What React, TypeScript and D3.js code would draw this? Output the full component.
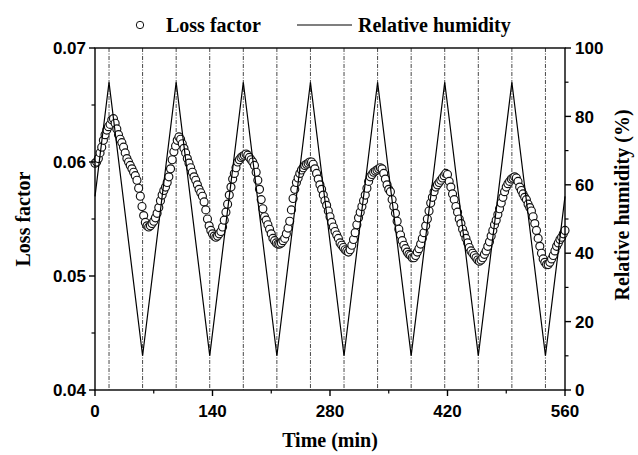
import React from "react";
import * as d3 from "d3";

// ---- Data ----
// Loss factor sampled every 2 min from 0 to 560 min
const lossStartMin = 0;
const lossStepMin = 2;
const lossFactor = [
  0.0599, 0.0600, 0.0603, 0.0608, 0.0613, 0.0619, 0.0624, 0.0628, 0.0631, 0.0633,
  0.0637, 0.0638, 0.0634, 0.0629, 0.0624, 0.0620, 0.0617, 0.0613, 0.0608, 0.0603,
  0.0600, 0.0597, 0.0594, 0.0591, 0.0588, 0.0584, 0.0577, 0.0570, 0.0561, 0.0553,
  0.0547, 0.0544, 0.0543, 0.0544, 0.0546, 0.0548, 0.0551, 0.0555, 0.0560, 0.0566,
  0.0571, 0.0575, 0.0578, 0.0582, 0.0587, 0.0594, 0.0602, 0.0609, 0.0614, 0.0619,
  0.0622, 0.0620, 0.0616, 0.0612, 0.0608, 0.0603, 0.0599, 0.0595, 0.0591, 0.0587,
  0.0584, 0.0580, 0.0576, 0.0573, 0.0570, 0.0565, 0.0558, 0.0550, 0.0544, 0.0540,
  0.0537, 0.0535, 0.0534, 0.0535, 0.0537, 0.0539, 0.0543, 0.0549, 0.0556, 0.0563,
  0.0571, 0.0578, 0.0585, 0.0590, 0.0595, 0.0600, 0.0602, 0.0604, 0.0605, 0.0606,
  0.0607, 0.0606, 0.0604, 0.0602, 0.0600, 0.0597, 0.0591, 0.0584, 0.0576, 0.0567,
  0.0559, 0.0552, 0.0549, 0.0545, 0.0541, 0.0537, 0.0533, 0.0531, 0.0529, 0.0528,
  0.0528, 0.0529, 0.0531, 0.0533, 0.0537, 0.0542, 0.0548, 0.0558, 0.0568, 0.0576,
  0.0582, 0.0586, 0.0590, 0.0593, 0.0595, 0.0597, 0.0598, 0.0599, 0.0600, 0.0600,
  0.0598, 0.0594, 0.0590, 0.0585, 0.0580, 0.0576, 0.0571, 0.0566, 0.0562, 0.0557,
  0.0552, 0.0547, 0.0543, 0.0539, 0.0536, 0.0533, 0.0529, 0.0527, 0.0525, 0.0523,
  0.0522, 0.0521, 0.0523, 0.0527, 0.0532, 0.0538, 0.0545, 0.0551, 0.0556, 0.0561,
  0.0566, 0.0571, 0.0577, 0.0583, 0.0587, 0.0589, 0.0591, 0.0592, 0.0593, 0.0594,
  0.0595, 0.0594, 0.0590, 0.0585, 0.0580, 0.0576, 0.0574, 0.0567, 0.0561, 0.0555,
  0.0548, 0.0541, 0.0536, 0.0531, 0.0527, 0.0524, 0.0521, 0.0519, 0.0518, 0.0516,
  0.0516, 0.0518, 0.0521, 0.0524, 0.0528, 0.0533, 0.0538, 0.0544, 0.0550, 0.0557,
  0.0564, 0.0569, 0.0574, 0.0578, 0.0580, 0.0582, 0.0584, 0.0586, 0.0588, 0.0590,
  0.0589, 0.0583, 0.0578, 0.0572, 0.0567, 0.0561, 0.0556, 0.0550, 0.0546, 0.0541,
  0.0537, 0.0533, 0.0529, 0.0525, 0.0522, 0.0520, 0.0518, 0.0516, 0.0514, 0.0513,
  0.0514, 0.0516, 0.0519, 0.0522, 0.0526, 0.0530, 0.0535, 0.0540, 0.0545, 0.0549,
  0.0554, 0.0559, 0.0564, 0.0569, 0.0574, 0.0578, 0.0581, 0.0583, 0.0585, 0.0586,
  0.0587, 0.0586, 0.0583, 0.0578, 0.0575, 0.0572, 0.0569, 0.0567, 0.0563, 0.0560,
  0.0557, 0.0552, 0.0546, 0.0540, 0.0533, 0.0526, 0.0520, 0.0515, 0.0512, 0.0510,
  0.0510, 0.0512, 0.0515, 0.0518, 0.0522, 0.0526, 0.0529, 0.0532, 0.0534, 0.0537,
  0.0540,
];

// Relative humidity: triangle profile vertices (time in min, RH in %)
const rhTimes = [0, 16.7, 56.7, 96.7, 136.7, 176.7, 216.7, 256.7, 296.7, 336.7, 376.7, 416.7, 456.7, 496.7, 536.7, 560];
const rhValues = [56.6, 90, 10, 90, 10, 90, 10, 90, 10, 90, 10, 90, 10, 90, 10, 56.6];
// Switching instants (vertical dash-dot lines)
const switchTimes = [16.7, 56.7, 96.7, 136.7, 176.7, 216.7, 256.7, 296.7, 336.7, 376.7, 416.7, 456.7, 496.7, 536.7];

const xTicks = [0, 140, 280, 420, 560];
const xTickLabels = ["0", "140", "280", "420", "560"];
const xMinorTicks = [70, 210, 350, 490];
const leftTicks = [0.04, 0.05, 0.06, 0.07];
const leftTickLabels = ["0.04", "0.05", "0.06", "0.07"];
const leftMinorTicks = [0.045, 0.055, 0.065];
const rightTicks = [0, 20, 40, 60, 80, 100];
const rightTickLabels = ["0", "20", "40", "60", "80", "100"];
const rightMinorTicks = [10, 30, 50, 70, 90];

const seriesNames = ["Loss factor", "Relative humidity"];
const xTitle = "Time (min)";
const yLeftTitle = "Loss factor";
const yRightTitle = "Relative humidity (%)";

export default function App() {
  const W = 638, H = 455;
  const left = 95, right = 565, top = 48, bottom = 390;
  const x = d3.scaleLinear().domain([0, 560]).range([left, right]);
  const yL = d3.scaleLinear().domain([0.04, 0.07]).range([bottom, top]);
  const yR = d3.scaleLinear().domain([0, 100]).range([bottom, top]);

  const lossPts = lossFactor.map((v, i) => ({ t: lossStartMin + i * lossStepMin, v }));
  const rhPts = rhTimes.map((t, i) => ({ t, v: rhValues[i] }));
  const rhLine = d3.line<{ t: number; v: number }>().x(d => x(d.t)).y(d => yR(d.v))(rhPts) || "";

  const serif = "'Liberation Serif', 'Times New Roman', serif";
  const sans = "'Liberation Sans', Arial, sans-serif";
  const tickFs = 17;
  const titleFs = 20;

  return (
    <div style={{ position: "fixed", left: 0, top: 0 }}>
      <svg width={W} height={H} style={{ display: "block", background: "#fff" }}>
        {/* vertical dash-dot lines */}
        {switchTimes.map((t, i) => (
          <line key={"sw" + i} x1={x(t)} x2={x(t)} y1={top} y2={bottom}
            stroke="#333" strokeWidth={0.9} strokeDasharray="4,1.5,1,1.5" />
        ))}
        {/* loss factor circles */}
        {lossPts.map((d, i) => (
          <circle key={"c" + i} cx={x(d.t)} cy={yL(d.v)} r={4} fill="#fff" stroke="#111" strokeWidth={1.15} />
        ))}
        {/* RH line */}
        <path d={rhLine} fill="none" stroke="#000" strokeWidth={1.2} />

        {/* frame */}
        <rect x={left} y={top} width={right - left} height={bottom - top} fill="none" stroke="#000" strokeWidth={1.4} />

        {/* bottom axis */}
        {xTicks.map((t, i) => (
          <g key={"xt" + i}>
            <line x1={x(t)} x2={x(t)} y1={bottom} y2={bottom + 6} stroke="#000" strokeWidth={1.4} />
            <text x={x(t)} y={417} textAnchor="middle" fontFamily={sans} fontWeight="bold" fontSize={tickFs}>{xTickLabels[i]}</text>
          </g>
        ))}
        {xMinorTicks.map((t, i) => (
          <line key={"xm" + i} x1={x(t)} x2={x(t)} y1={bottom} y2={bottom + 3.5} stroke="#000" strokeWidth={1.2} />
        ))}

        {/* left axis */}
        {leftTicks.map((v, i) => (
          <g key={"lt" + i}>
            <line x1={left - 6} x2={left} y1={yL(v)} y2={yL(v)} stroke="#000" strokeWidth={1.4} />
            <text x={left - 9} y={yL(v)} dy="0.36em" textAnchor="end" fontFamily={sans} fontWeight="bold" fontSize={tickFs}>{leftTickLabels[i]}</text>
          </g>
        ))}
        {leftMinorTicks.map((v, i) => (
          <line key={"lm" + i} x1={left - 3.5} x2={left} y1={yL(v)} y2={yL(v)} stroke="#000" strokeWidth={1.2} />
        ))}

        {/* right axis */}
        {rightTicks.map((v, i) => (
          <g key={"rt" + i}>
            <line x1={right} x2={right + 6} y1={yR(v)} y2={yR(v)} stroke="#000" strokeWidth={1.4} />
            <text x={right + 10} y={yR(v)} dy="0.36em" textAnchor="start" fontFamily={sans} fontWeight="bold" fontSize={tickFs}>{rightTickLabels[i]}</text>
          </g>
        ))}
        {rightMinorTicks.map((v, i) => (
          <line key={"rm" + i} x1={right} x2={right + 3.5} y1={yR(v)} y2={yR(v)} stroke="#000" strokeWidth={1.2} />
        ))}

        {/* axis titles */}
        <text x={(left + right) / 2} y={447} textAnchor="middle" fontFamily={serif} fontWeight="bold" fontSize={titleFs}>{xTitle}</text>
        <text transform={`translate(30,${(top + bottom) / 2}) rotate(-90)`} textAnchor="middle" fontFamily={serif} fontWeight="bold" fontSize={titleFs}>{yLeftTitle}</text>
        <text transform={`translate(629,205) rotate(-90)`} textAnchor="middle" fontFamily={serif} fontWeight="bold" fontSize={titleFs}>{yRightTitle}</text>

        {/* legend */}
        <circle cx={140} cy={25} r={3.7} fill="#fff" stroke="#111" strokeWidth={1} />
        <text x={166} y={32} fontFamily={serif} fontWeight="bold" fontSize={titleFs}>{seriesNames[0]}</text>
        <line x1={297} x2={352} y1={25} y2={25} stroke="#000" strokeWidth={1.2} />
        <text x={358} y={32} fontFamily={serif} fontWeight="bold" fontSize={titleFs}>{seriesNames[1]}</text>
      </svg>
    </div>
  );
}
